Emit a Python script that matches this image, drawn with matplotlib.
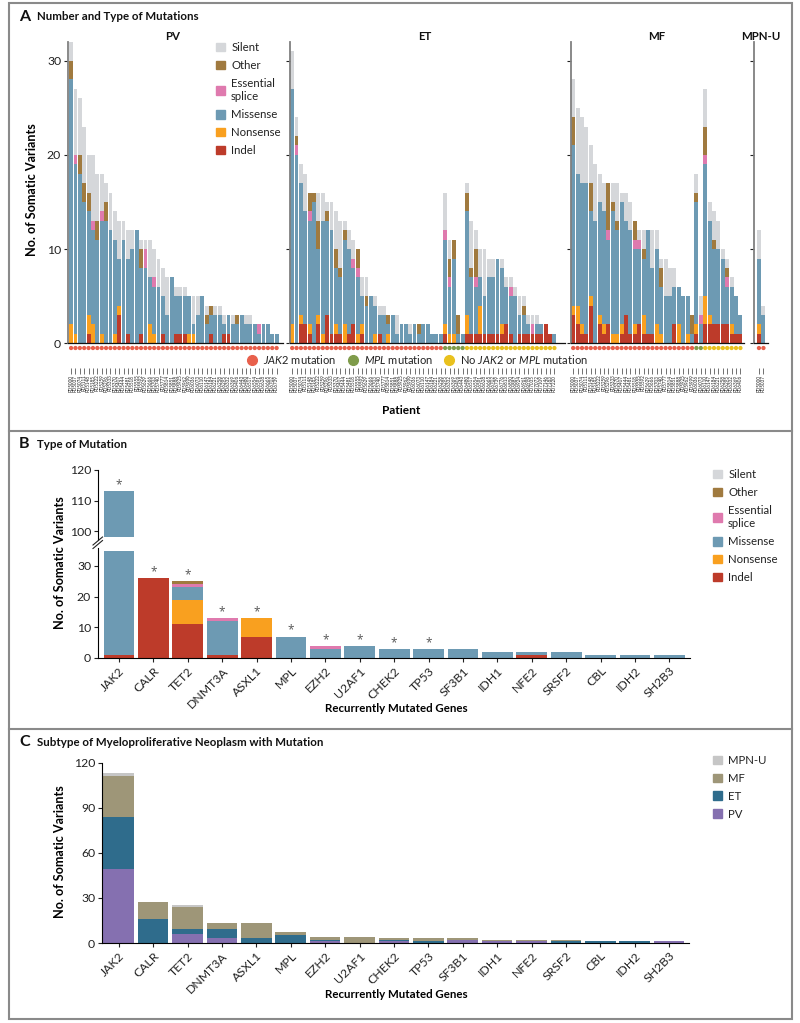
import numpy as np
import matplotlib
matplotlib.use("Agg")
import matplotlib.pyplot as plt
from matplotlib.patches import Patch, Rectangle
from matplotlib.lines import Line2D

plt.rcParams['font.family'] = ['Lato', 'DejaVu Sans']
plt.rcParams['mathtext.fontset'] = 'custom'
plt.rcParams['mathtext.it'] = 'Lato:italic'
plt.rcParams['mathtext.rm'] = 'Lato'

W, H = 800, 1023

# colours
mut_names = ['Silent', 'Other', 'Essential\nsplice', 'Missense', 'Nonsense', 'Indel']
mut_colors = ['#D5D7DA', '#A07A3F', '#DF7AAE', '#6D9AB3', '#F9A01F', '#BD3B2A']
c_silent, c_other, c_splice, c_mis, c_nons, c_indel = mut_colors
dot_red, dot_green, dot_yellow = '#E8604C', '#7F9C4B', '#E9C11E'

# panel A, PV
pv_indel = [0,0,0,0,1,0,0,0,0,0, 0,3,0,1,0,0,1,0,0,0, 0,1,0,0,1,1,1,0,0,0, 0,0,1,0,0,1,1,0,0,0, 0,0,0,0,0,0,0,0]
pv_nons = [2,1,0,0,2,2,0,1,0,0, 1,1,0,0,0,0,0,0,2,1, 0,0,0,0,0,0,0,1,1,0, 0,0,0,0,0,0,0,0,0,0, 0,0,0,0,0,0,0,0]
pv_mis = [26,18,18,15,11,10,11,12,13,12, 10,5,11,8,10,12,7,8,5,5, 6,4,3,7,4,4,4,4,1,3, 5,2,2,3,3,1,2,2,2,3, 2,2,2,1,2,2,1,1]
pv_spl = [0,1,0,0,0,1,0,1,0,0, 0,0,0,0,0,0,0,2,0,1, 0,0,0,0,0,0,0,0,0,0, 0,0,0,0,0,0,0,0,0,0, 0,0,0,1,0,0,0,0]
pv_oth = [2,0,2,2,2,0,2,0,2,0, 0,0,0,0,0,0,2,0,0,0, 0,0,0,0,0,0,0,0,0,0, 0,1,1,0,0,0,0,0,1,0, 0,0,0,0,0,0,0,0]
pv_sil = [2,7,6,6,4,7,5,4,2,4, 3,4,2,3,2,0,1,1,4,3, 3,3,4,0,1,1,1,0,3,2, 0,1,0,1,1,1,0,1,0,0, 1,1,0,0,0,0,0,0]
pv_dots = [48, 0, 0]

# panel A, ET
et_indel = [0,0,2,2,1,0,2,0,3,1, 1,1,0,1,2,0,1,0,0,0, 1,0,0,0,0,0,0,0,0,0, 0,0,0,0,0,1,0,0,0,0, 1,1,1,1,1,1,1,1,1,2, 1,0,1,1,1,1,1,1,2,1, 0]
et_nons = [2,0,1,0,1,0,1,1,0,0, 1,0,2,0,0,1,1,0,0,1, 0,0,1,0,0,0,0,0,0,0, 0,0,0,0,0,1,1,1,0,0, 2,0,0,3,0,0,0,0,1,0, 0,0,0,0,0,0,0,0,0,0, 0]
et_mis = [25,20,14,12,11,15,7,12,10,11, 6,6,9,9,6,6,3,4,5,3, 2,3,1,3,1,2,2,1,2,1, 2,2,1,1,1,9,5,8,1,1, 11,6,5,3,4,6,6,8,6,4, 4,5,2,2,1,0,1,1,0,0, 1]
et_spl = [0,1,0,0,1,0,0,0,0,0, 0,0,0,0,1,1,0,0,0,0, 0,0,0,0,0,0,0,0,0,0, 0,0,0,0,0,1,1,0,0,0, 0,0,1,0,0,0,0,0,0,0, 1,0,0,0,0,1,0,0,0,0, 0]
et_oth = [0,1,0,0,2,1,3,0,1,0, 2,1,1,0,0,2,0,1,0,0, 0,0,1,0,0,0,0,0,0,1, 0,0,0,0,0,0,2,2,2,0, 2,1,3,0,0,0,0,0,0,0, 0,0,0,1,0,0,0,0,0,0, 0]
et_sil = [4,2,2,4,0,0,3,3,1,3, 4,5,1,2,2,0,2,2,0,1, 1,1,0,0,2,0,0,1,0,0, 0,0,0,0,0,4,2,0,0,0, 1,5,2,3,5,2,2,0,1,1, 1,1,2,1,1,1,1,0,0,0, 0]
et_dots = [35, 5, 21]

# panel A, MF
mf_indel = [3,2,1,1,4,0,2,1,2,0, 0,1,3,1,1,2,1,1,1,0, 0,0,0,2,0,0,0,0,1,0, 2,2,2,2,2,2,1,1,1]
mf_nons = [1,2,1,0,1,0,1,1,0,1, 1,1,0,0,1,0,2,0,0,2, 1,0,0,0,2,0,1,0,1,0, 3,1,0,0,0,0,1,0,0]
mf_mis = [17,14,15,16,9,13,12,12,9,13, 11,13,10,11,8,8,6,11,7,8, 5,5,5,4,4,5,4,1,13,2, 14,10,8,8,7,4,4,4,2]
mf_spl = [0,0,0,0,0,0,0,0,1,0, 0,0,0,0,1,1,0,0,0,0, 0,0,0,0,0,0,0,0,0,1, 1,0,0,0,0,1,0,0,0]
mf_oth = [3,0,0,0,3,0,0,0,5,1, 1,0,0,0,2,0,1,0,0,0, 2,0,0,0,0,0,0,2,1,0, 3,0,1,0,0,1,0,0,0]
mf_sil = [4,7,7,6,4,6,3,3,0,2, 4,1,3,3,0,1,2,0,4,2, 1,4,3,2,0,0,0,0,2,2, 4,2,3,3,1,1,1,0,0]
mf_dots = [28, 2, 9]

# panel A, MPN-U
mu_indel = [1, 0]
mu_nons = [1, 0]
mu_mis = [7, 3]
mu_spl = [0, 0]
mu_oth = [0, 0]
mu_sil = [3, 1]
mu_dots = [2, 0, 0]

# panels B and C
genes = ['JAK2', 'CALR', 'TET2', 'DNMT3A', 'ASXL1', 'MPL', 'EZH2', 'U2AF1', 'CHEK2',
         'TP53', 'SF3B1', 'IDH1', 'NFE2', 'SRSF2', 'CBL', 'IDH2', 'SH2B3']
b_indel = [1,26,11,1,7,0,0,0,0,0,0,0,1,0,0,0,0]
b_nons = [0,0,8,0,6,0,0,0,0,0,0,0,0,0,0,0,0]
b_mis = [112,0,4,11,0,7,3,4,3,3,3,2,1,2,1,1,1]
b_spl = [0,0,1,1,0,0,1,0,0,0,0,0,0,0,0,0,0]
b_oth = [0,0,1,0,0,0,0,0,0,0,0,0,0,0,0,0,0]
b_sil = [0]*17
b_star = [True]*10 + [False]*7
break_high = 35
break_low = 98.3

c_pv = [49,0,6,3,0,0,1,0,1,0,2,1,1,0,0,0,1]
c_et = [35,16,3,6,3,5,1,0,1,1,0,0,0,1,1,1,0]
c_mf = [27,11,15,4,10,2,2,4,1,2,1,1,1,1,0,0,0]
c_mu = [2,0,1,0,0,0,0,0,0,0,0,0,0,0,0,0,0]
sub_names = ['MPN-U', 'MF', 'ET', 'PV']
sub_colors = ['#C6C6C6', '#9E9678', '#2F6C8C', '#8570B0']

fig = plt.figure(figsize=(W/100, H/100), dpi=100, facecolor='white')


def fx(px):
    return px / W


def fy(py):
    return 1 - py / H


def axes_px(left, top, right, bottom):
    return fig.add_axes([fx(left), fy(bottom), fx(right-left), fy(top)-fy(bottom)])


def ftext(x, y, s, **kw):
    kw.setdefault('va', 'center')
    fig.text(fx(x), fy(y), s, **kw)


def stack(ax, xs, width, series):
    bottom = np.zeros(len(xs))
    for vals, col in series:
        vals = np.array(vals, dtype=float)
        ax.bar(xs, vals, width, bottom=bottom, color=col, linewidth=0)
        bottom += vals


def clean(ax):
    for s in ['top', 'right']:
        ax.spines[s].set_visible(False)
    ax.tick_params(labelsize=8.8, length=3.2, width=0.8, colors='#222222', pad=1.5)


# frame round the three panels
fig.add_artist(Rectangle((fx(9), fy(1019)), fx(783), fy(3)-fy(1019), transform=fig.transFigure,
                         fill=False, ec='#8A8A8A', lw=1.5))
for yy in [431, 729]:
    fig.add_artist(Line2D([fx(9), fx(792)], [fy(yy), fy(yy)], color='#8A8A8A', lw=1.5))

# panel A
groups = [
    ('PV', 67.7, 283, 68.9, 4.373, pv_indel, pv_nons, pv_mis, pv_spl, pv_oth, pv_sil, pv_dots, 173),
    ('ET', 289.7, 565, 290, 4.37, et_indel, et_nons, et_mis, et_spl, et_oth, et_sil, et_dots, 425),
    ('MF', 570.7, 744, 571, 4.4, mf_indel, mf_nons, mf_mis, mf_spl, mf_oth, mf_sil, mf_dots, 657),
    ('MPN-U', 754.3, 768, 756.7, 4.5, mu_indel, mu_nons, mu_mis, mu_spl, mu_oth, mu_sil, mu_dots, 761),
]
for name, left, right, first, pitch, indel, nons, mis, spl, oth, sil, dots, title_x in groups:
    ax = axes_px(left, 41.8, right, 343.3)
    ax.set_ylim(0, 32)
    ax.set_xlim((left-first)/pitch, (right-first)/pitch)
    xs = np.arange(len(mis)) + 0.5
    stack(ax, xs, 0.88, [(indel, c_indel), (nons, c_nons), (mis, c_mis),
                         (spl, c_splice), (oth, c_other), (sil, c_silent)])
    clean(ax)
    ax.spines['left'].set_color('#808080')
    ax.spines['left'].set_linewidth(1.3)
    ax.spines['bottom'].set_color('#111111')
    ax.spines['bottom'].set_linewidth(0.9)
    ax.set_yticks([0, 10, 20, 30])
    if name != 'PV':
        ax.set_yticklabels([])
    ax.set_xticks([])
    # mutation status dots
    dot_cols = [dot_red]*dots[0] + [dot_green]*dots[1] + [dot_yellow]*dots[2]
    ax.scatter(xs, np.full(len(xs), -0.5), s=9.5, c=dot_cols, linewidths=0, clip_on=False, zorder=3)
    # patient ids, too small to read in the original so these are only stand-ins
    sec = ax.secondary_xaxis(-0.081)
    sec.spines['bottom'].set_visible(False)
    sec.set_xticks(xs)
    sec.set_xticklabels(['PD' + str(5000 + 37*i) for i in range(len(xs))], rotation=90, fontsize=3.3, color='#222222')
    sec.tick_params(length=4, width=0.45, pad=1, color='#222222')
    ftext(title_x, 36, name, fontsize=8.3, fontweight='bold', ha='center', color='#111111')

ftext(32, 190, 'No. of Somatic Variants', fontsize=9.1, fontweight='bold', rotation=90, ha='center')

mut_handles = [Patch(color=c, label=n) for n, c in zip(mut_names, mut_colors)]


def mut_legend(x, y, handles):
    leg = fig.legend(handles=handles, loc='upper left', bbox_to_anchor=(fx(x), fy(y)), frameon=False,
                     fontsize=8.2, labelspacing=0.6, handlelength=0.8, handleheight=0.8, handletextpad=0.53,
                     borderpad=0, borderaxespad=0, labelcolor='#222222')
    for t in leg.get_texts():
        t.set_linespacing(1.3)


mut_legend(216, 42, mut_handles)

status_handles = [
    Line2D([], [], marker='o', ls='', color=dot_red, ms=7, label=r'$\it{JAK2}$ mutation'),
    Line2D([], [], marker='o', ls='', color=dot_green, ms=7, label=r'$\it{MPL}$ mutation'),
    Line2D([], [], marker='o', ls='', color=dot_yellow, ms=7, label=r'No $\it{JAK2}$ or $\it{MPL}$ mutation'),
]
fig.legend(handles=status_handles, loc='center', bbox_to_anchor=(fx(418), fy(359)), ncol=3, frameon=False,
           fontsize=8, columnspacing=1.05, handlelength=0.8, handletextpad=0.6, borderpad=0, borderaxespad=0,
           labelcolor='#222222')

ftext(401, 411, 'Patient', fontsize=8.6, fontweight='bold', ha='center')
for letter, yy, title in [('A', 17, 'Number and Type of Mutations'), ('B', 444, 'Type of Mutation'),
                          ('C', 742, 'Subtype of Myeloproliferative Neoplasm with Mutation')]:
    ftext(19, yy, letter, fontsize=11.5, fontweight='bold', color='#111111')
    ftext(37, yy, title, fontsize=8.25, fontweight='bold', color='#111111')

# panel B, broken axis
first_b = 119
pitch_b = 34.4
bar_b = 30.7 / pitch_b
xb = np.arange(len(genes))
ax_hi = axes_px(97.7, 470, 690, 540)
ax_lo = axes_px(97.7, 548, 690, 658)
ax_hi.set_ylim(120 - (540-470)/3.07, 120)
ax_lo.set_ylim(0, 110/3.07)
for a in [ax_hi, ax_lo]:
    a.set_xlim((97.7-first_b)/pitch_b, (690-first_b)/pitch_b)
    clean(a)
ax_hi.spines['bottom'].set_visible(False)
ax_hi.set_xticks([])
ax_hi.set_yticks([100, 110, 120])
ax_lo.set_yticks([0, 10, 20, 30])

b_series = [(b_indel, c_indel), (b_nons, c_nons), (b_mis, c_mis), (b_spl, c_splice), (b_oth, c_other), (b_sil, c_silent)]
b_total = np.sum([s[0] for s in b_series], axis=0)
base = np.zeros(len(genes))
for vals, col in b_series:
    top = base + np.array(vals)
    low_bot = np.minimum(base, break_high)
    ax_lo.bar(xb, np.minimum(top, break_high) - low_bot, bar_b, bottom=low_bot, color=col, linewidth=0)
    hi_bot = np.maximum(base, break_low)
    ax_hi.bar(xb, np.maximum(top, break_low) - hi_bot, bar_b, bottom=hi_bot, color=col, linewidth=0)
    base = top

ax_lo.set_xticks(xb)
ax_lo.set_xticklabels(genes, rotation=45, ha='right', rotation_mode='anchor')
ax_lo.tick_params(axis='x', pad=2)

for x, tot, star in zip(xb, b_total, b_star):
    if star:
        a = ax_hi if tot > break_high else ax_lo
        a.annotate('*', (x, tot), xytext=(0, 4.5), textcoords='offset points', ha='center', va='center',
                   fontsize=8.5, family='Open Sans', color='#555555', annotation_clip=False)

# break marks on the axis
for off in [0, 3.5]:
    fig.add_artist(Line2D([fx(93), fx(102.5)], [fy(548.5-off), fy(540.5-off)], color='#222222', lw=0.8))

ftext(396, 709, 'Recurrently Mutated Genes', fontsize=8.3, fontweight='bold', ha='center')
ftext(60, 563, 'No. of Somatic Variants', fontsize=9.1, fontweight='bold', rotation=90, ha='center')
mut_legend(713, 469, mut_handles)

# panel C
first_c = 118.7
ax_c = axes_px(101.7, 762.7, 689, 943)
ax_c.set_ylim(0, 120)
ax_c.set_xlim((101.7-first_c)/pitch_b, (689-first_c)/pitch_b)
stack(ax_c, xb, bar_b, [(c_pv, sub_colors[3]), (c_et, sub_colors[2]), (c_mf, sub_colors[1]), (c_mu, sub_colors[0])])
clean(ax_c)
ax_c.set_yticks([0, 30, 60, 90, 120])
ax_c.set_xticks(xb)
ax_c.set_xticklabels(genes, rotation=45, ha='right', rotation_mode='anchor')
ax_c.tick_params(axis='x', pad=2)
ftext(396, 995, 'Recurrently Mutated Genes', fontsize=8.3, fontweight='bold', ha='center')
ftext(60, 852, 'No. of Somatic Variants', fontsize=9.1, fontweight='bold', rotation=90, ha='center')
sub_handles = [Patch(color=c, label=n) for n, c in zip(sub_names, sub_colors)]
mut_legend(713, 755, sub_handles)

fig.savefig('out.png', dpi=100)
